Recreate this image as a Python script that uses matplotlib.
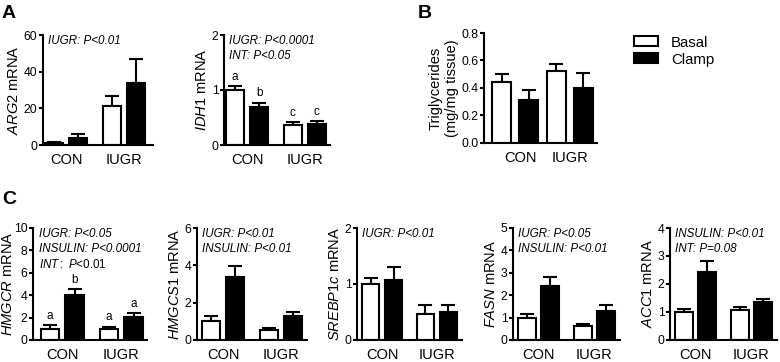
import matplotlib
matplotlib.use('Agg')
import matplotlib.pyplot as plt
from matplotlib.patches import Patch

plt.rcParams['font.family'] = ['Liberation Sans', 'DejaVu Sans']
plt.rcParams['mathtext.fontset'] = 'custom'
plt.rcParams['mathtext.rm'] = 'Liberation Sans'
plt.rcParams['mathtext.it'] = 'Liberation Sans:italic'

groups = ['CON', 'IUGR']
conditions = ['Basal', 'Clamp']

# order: CON basal, CON clamp, IUGR basal, IUGR clamp
arg2 = [1.0, 4.0, 21.5, 34.0]
arg2_err = [0.5, 2.0, 5.0, 13.0]
idh1 = [1.0, 0.70, 0.37, 0.38]
idh1_err = [0.07, 0.07, 0.05, 0.05]
idh1_letters = ['a', 'b', 'c', 'c']
tg = [0.44, 0.31, 0.52, 0.40]
tg_err = [0.06, 0.075, 0.055, 0.11]
hmgcr = [1.0, 4.05, 1.0, 2.05]
hmgcr_err = [0.35, 0.5, 0.2, 0.35]
hmgcr_letters = ['a', 'b', 'a', 'a']
hmgcs1 = [1.0, 3.35, 0.55, 1.28]
hmgcs1_err = [0.3, 0.6, 0.07, 0.2]
srebp1c = [1.0, 1.08, 0.47, 0.50]
srebp1c_err = [0.1, 0.22, 0.15, 0.13]
fasn = [1.0, 2.4, 0.62, 1.28]
fasn_err = [0.15, 0.4, 0.08, 0.3]
acc1 = [1.0, 2.42, 1.07, 1.35]
acc1_err = [0.12, 0.4, 0.1, 0.12]

W, H = 780, 362
fig = plt.figure(figsize=(W / 100, H / 100), dpi=100)


def add_ax(left, top, width, height):
    return fig.add_axes([left / W, 1 - (top + height) / H, width / W, height / H])


def style(ax):
    for s in ['top', 'right']:
        ax.spines[s].set_visible(False)
    for s in ['left', 'bottom']:
        ax.spines[s].set_linewidth(1.5)
    ax.tick_params(axis='y', length=3, width=1.5, pad=1, labelsize=8.8)
    ax.tick_params(axis='x', length=0, pad=6, labelsize=10.5)


def bars(ax, vals, errs, pos, width, ymax, yticks, ylabel, notes, letters=None, xlim=(-0.6, 4.0), xt=None):
    colors = ['white', 'black', 'white', 'black']
    ax.bar(pos, vals, width, color=colors, edgecolor='black', linewidth=1.5, zorder=2)
    ax.errorbar(pos, vals, yerr=[[0] * 4, errs], fmt='none', ecolor='black',
                elinewidth=1.5, capsize=5, capthick=1.5, zorder=1)
    ax.set_ylim(0, ymax)
    ax.set_xlim(*xlim)
    ax.set_yticks(yticks)
    if xt is None:
        xt = [(pos[0] + pos[1]) / 2, (pos[2] + pos[3]) / 2]
    ax.set_xticks(xt)
    ax.set_xticklabels(groups)
    ax.set_ylabel(ylabel, fontsize=10.5, labelpad=2)
    style(ax)
    ny = 0.95
    for n in notes:
        ax.text(0.05, ny, n, transform=ax.transAxes, fontsize=8.4, style='italic', va='center')
        ny -= 0.14
    if letters:
        for p, v, e, l in zip(pos, vals, errs, letters):
            ax.text(p, v + e + ymax * 0.03, l, ha='center', va='bottom', fontsize=8.5)


pos = [0, 1, 2.4, 3.4]
w = 0.75

# Panel A
ax = add_ax(43, 35, 110, 110)
bars(ax, arg2, arg2_err, pos, w, 60, [0, 20, 40, 60], r'$\mathit{ARG2}$ mRNA',
     ['IUGR: P<0.01'], xlim=(-0.46, 4.1))
ax = add_ax(224, 35, 106, 110)
bars(ax, idh1, idh1_err, pos, w, 2, [0, 1, 2], r'$\mathit{IDH1}$ mRNA',
     ['IUGR: P<0.0001', 'INT: P<0.05'], letters=idh1_letters, xlim=(-0.46, 3.95))

# Panel B
ax = add_ax(484, 33, 113, 110)
bars(ax, tg, tg_err, [0, 1, 2, 3], 0.7, 0.8, [0, 0.2, 0.4, 0.6, 0.8],
     'Triglycerides\n(mg/mg tissue)', [], xlim=(-0.65, 3.5), xt=[0.7, 2.5])
ax.set_yticklabels(['0.0', '0.2', '0.4', '0.6', '0.8'])
ax.legend(handles=[Patch(facecolor='white', edgecolor='black', linewidth=1.5),
                   Patch(facecolor='black', edgecolor='black', linewidth=1.5)],
          labels=conditions, loc='upper left', bbox_to_anchor=(1.27, 1.03),
          frameon=False, fontsize=10.8, handlelength=1.6, handleheight=0.65,
          labelspacing=0.2, handletextpad=0.9, borderaxespad=0)

# Panel C
ax = add_ax(33, 228, 114, 112)
bars(ax, hmgcr, hmgcr_err, pos, w, 10, [0, 2, 4, 6, 8, 10], r'$\mathit{HMGCR}$ mRNA',
     ['IUGR: P<0.05', 'INSULIN: P<0.0001'], letters=hmgcr_letters, xlim=(-0.7, 3.95))
ax.yaxis.set_label_coords(-0.155, 0.5)
ax.text(0.05, 0.67, r'$\mathit{INT:\ P}$<0.01', transform=ax.transAxes, fontsize=8.4, va='center')
ax = add_ax(197, 228, 110, 112)
bars(ax, hmgcs1, hmgcs1_err, pos, w, 6, [0, 2, 4, 6], r'$\mathit{HMGCS1}$ mRNA',
     ['IUGR: P<0.01', 'INSULIN: P<0.01'])
ax = add_ax(357, 228, 105, 112)
bars(ax, srebp1c, srebp1c_err, pos, w, 2, [0, 1, 2], r'$\mathit{SREBP1c}$ mRNA',
     ['IUGR: P<0.01'])
ax = add_ax(513, 228, 107, 112)
bars(ax, fasn, fasn_err, pos, w, 5, [0, 1, 2, 3, 4, 5], r'$\mathit{FASN}$ mRNA',
     ['IUGR: P<0.05', 'INSULIN: P<0.01'])
ax = add_ax(670, 228, 107, 112)
bars(ax, acc1, acc1_err, pos, w, 4, [0, 1, 2, 3, 4], r'$\mathit{ACC1}$ mRNA',
     ['INSULIN: P<0.01', 'INT: P=0.08'])

fig.text(2 / W, 1 - 14 / H, 'A', fontsize=14, fontweight='bold', va='center')
fig.text(418 / W, 1 - 13 / H, 'B', fontsize=14, fontweight='bold', va='center')
fig.text(2 / W, 1 - 200 / H, 'C', fontsize=14, fontweight='bold', va='center')

fig.savefig('out.png', dpi=100)
